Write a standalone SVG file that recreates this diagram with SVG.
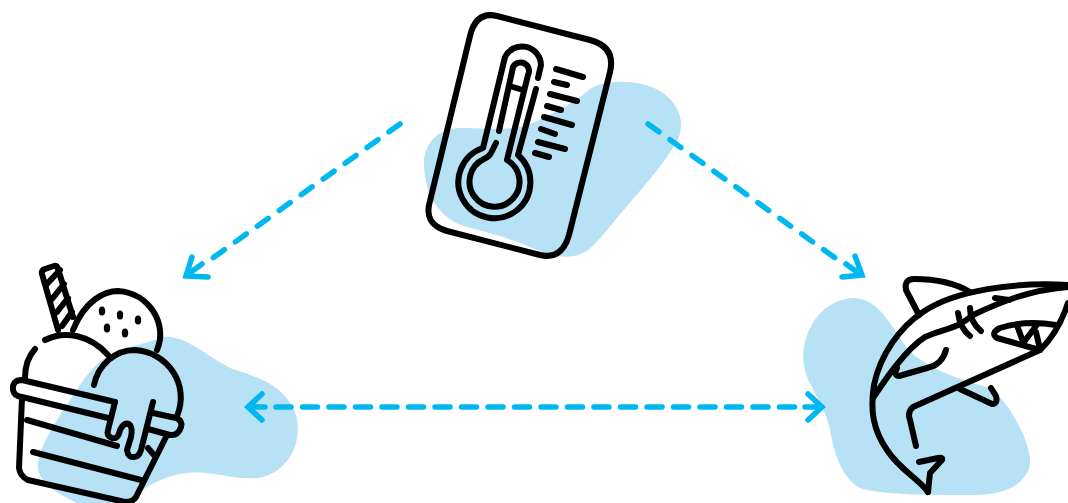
<svg xmlns="http://www.w3.org/2000/svg" width="1068" height="503" viewBox="0 0 1068 503">
<style>
.blob{fill:#b7e1f5;stroke:none}
.ink{fill:none;stroke:#000;stroke-width:6;stroke-linecap:round;stroke-linejoin:round}
.dash{fill:none;stroke:#00b8f0;stroke-width:5.5;stroke-linecap:round}
.head{fill:none;stroke:#00b8f0;stroke-width:5.5;stroke-linecap:round;stroke-linejoin:miter}
</style>
<rect width="1068" height="503" fill="#fff"/>
<g id="thermometer">
<path class="blob" d="M424,163C424,142 440,128 460,128C485,127 510,133 535,122C560,110 575,102 590,89C605,79 640,79 660,91C678,102 685,120 679,137C670,157 645,185 622,212C608,228 595,248 581,254C565,260 548,255 530,247C505,236 480,231 458,224C435,212 424,190 424,163Z"/>
<path class="ink" d="M497,16L590,40Q616,47 610,72L569,235Q562,260 540,255L447,231Q423,224 430,201L470,36Q476,11 497,16Z"/>
<path class="ink" d="M538,78L541,65A19,19 0 0 0 505,57L483,148A36,36 0 1 0 518,155L536,89"/>
<path class="ink" d="M496,143L491,153Q489,157 484,159A25,25 0 1 0 507,160L528,75A8,8 0 0 0 513,67L499,131"/>
<path class="ink" d="M513,87L523,90M556,69L583,77M554,82L567,85M550,94L577,101M547,106L561,110M544,117L572,125M541,129L555,134M538,142L565,149M535,153L549,157"/>
</g>
<g id="ice-cream">
<path class="blob" d="M38,462C42,440 60,415 85,378C110,345 130,350 163,337C185,335 205,355 230,368C260,378 285,385 296,415C303,440 290,470 263,477C235,482 215,470 187,473C160,476 140,490 128,503L77,503C50,490 36,480 38,462Z"/>
<path class="ink" d="M115,402L22,380Q12,380 13,390Q14,396 22,397L108,418"/>
<path class="ink" d="M153,413L176,418Q183,421 181,427Q178,436 170,435L148,429"/>
<path class="ink" d="M22,398L19,468Q20,476 28,480L125,502Q133,502 136,497L167,435"/>
<path class="ink" d="M27,420L117,446M33,452L141,480M148,448L154,455"/>
<path class="ink" d="M115,402L108,430Q106,436 112,438Q118,440 120,430Q124,422 129,424Q133,427 131,437L127,450Q128,458 134,457Q139,457 141,450L153,402"/>
<path class="ink" d="M25,378Q25,360 35,349M45,340C65,330 90,335 108,355"/>
<path class="ink" d="M94,385C98,365 115,350 135,350C168,352 190,385 177,416"/>
<path class="ink" d="M73,330C85,300 105,291 118,291C150,293 168,325 157,350"/>
<path class="ink" d="M58,330L42,274Q41,270 45,269L54,266Q57,265 58,269L73,317M60,270L46,285M64,284L52,299M68,298L57,312M72,312L62,326"/>
<g fill="#000"><ellipse cx="102" cy="311" rx="3.2" ry="4.5"/><ellipse cx="120" cy="315" rx="3.2" ry="4.5"/><ellipse cx="138" cy="320" rx="3.2" ry="4.5"/><ellipse cx="107" cy="328" rx="3.2" ry="4.5"/><ellipse cx="125" cy="333" rx="3.2" ry="4.5"/></g>
</g>
<g id="shark">
<path class="blob" d="M803,355C805,325 825,298 855,298C880,300 890,325 907,348C925,368 960,380 990,388C1010,402 1032,445 1030,465C1025,485 1005,495 975,495C930,495 880,495 860,488C845,480 835,460 830,430C825,400 803,385 803,355Z"/>
<path class="ink" d="M1068,285C1015,282 955,290 923,312C900,327 880,355 874,385C870,410 873,430 887,450C900,470 920,480 928,492"/>
<path class="ink" d="M873,398C885,380 905,350 925,337C945,328 955,330 973,315C1000,302 1030,290 1068,287"/>
<path class="ink" d="M919,315L906,290Q904,279 914,279C935,279 955,283 970,292"/>
<path class="ink" d="M1068,303Q1058,333 1040,350L913,407Q907,412 910,420L916,446"/>
<path class="ink" d="M960,389L992,404Q998,404 996,396L991,388"/>
<path class="ink" d="M946,350Q942,365 927,368L899,376Q893,375 897,368"/>
<path class="ink" d="M958,313Q960,328 970,336M970,308Q970,322 981,331M995,298L1009,300"/>
<path class="ink" d="M997,338Q990,333 1000,328Q1025,320 1056,325M997,338L1040,350M1018,328L1022,339M1036,326L1024,342M1036,332L1039,345"/>
<path class="ink" d="M928,492L930,473L942,460Q943,457 938,458L919,462"/>
</g>
<g id="connectors">
<path class="dash" stroke-dasharray="13.5 13.5" d="M400,124L210,260"/>
<path class="head" d="M192,257L186,276L208,277M187,275L202,264"/>
<path class="dash" stroke-dasharray="13.5 13.5" d="M648,124L838,260"/>
<path class="head" d="M855,256L862,275L842,277M861,275L846,264"/>
<path class="dash" stroke-dasharray="15 11.5" d="M276,407L795,407"/>
<path class="head" d="M262,394L248,407L262,420M249,407L265,407M808,394L822,407L808,420M821,407L805,407"/>
</g>
</svg>
